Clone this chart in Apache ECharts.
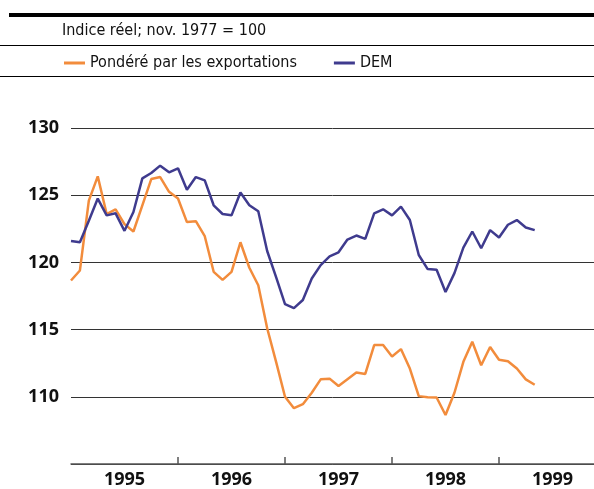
<!DOCTYPE html>
<html><head><meta charset="utf-8">
<script src="https://cdn.jsdelivr.net/npm/echarts@6/dist/echarts.min.js"></script>
<style>html,body{margin:0;padding:0;background:#fff}#c{width:594px;height:489px}</style>
</head><body><div id="c"></div>
<script>
const yearLabels = ['1995','1996','1997','1998','1999'];
const yTicks = [110,115,120,125,130];
// monthly values, Jan 1995 .. May 1999 (index = months since Jan 1995)
const exportWeighted = [118.65,119.4,124.6,126.4,123.6,123.95,122.85,122.3,124.25,126.2,126.35,125.25,
  124.75,123.0,123.07,121.95,119.3,118.7,119.3,121.5,119.6,118.3,115.1,112.6,
  110.0,109.15,109.45,110.3,111.3,111.35,110.8,111.3,111.8,111.7,113.85,113.85,
  113.0,113.55,112.1,110.05,109.97,109.95,108.65,110.3,112.6,114.1,112.35,113.7,
  112.75,112.65,112.1,111.3,110.9];
const dem = [121.6,121.5,123.1,124.75,123.5,123.65,122.35,123.75,126.25,126.65,127.2,126.7,
  127.0,125.4,126.35,126.1,124.25,123.6,123.5,125.2,124.25,123.8,120.85,118.9,
  116.9,116.6,117.2,118.8,119.8,120.45,120.75,121.7,122.0,121.75,123.65,123.95,
  123.5,124.15,123.15,120.55,119.5,119.45,117.8,119.2,121.1,122.3,121.05,122.4,
  121.85,122.8,123.15,122.6,122.4];
const seriesNames = ['Pondéré par les exportations','DEM'];
const colors = ['#F28C3C','#3F3B8E'];
const subtitle = 'Indice réel; nov. 1977 = 100';

const toPairs = arr => arr.map((v,i)=>[i,v]);
const font = 'Open Sans';
const chart = echarts.init(document.getElementById('c'));
chart.setOption({
  animation:false,
  grid:{left:71,top:128,width:523,height:339,containLabel:false},
  legend:{left:59,top:50,itemWidth:21,itemHeight:3,itemGap:37,icon:'rect',
    textStyle:{fontFamily:'DejaVu Sans Condensed',fontSize:16,color:'#111'},
    data:seriesNames.map((n,i)=>({name:n,itemStyle:{color:colors[i]}}))},
  graphic:[
    {type:'rect',shape:{x:9,y:13,width:600,height:4},style:{fill:'#000'}},
    {type:'line',shape:{x1:0,y1:45.5,x2:594,y2:45.5},style:{stroke:'#000',lineWidth:1}},
    {type:'line',shape:{x1:0,y1:76.5,x2:594,y2:76.5},style:{stroke:'#000',lineWidth:1}},
    {type:'text',left:62,top:23,style:{text:subtitle,font:'16px "DejaVu Sans Condensed"',fill:'#111'}}
  ],
  xAxis:{type:'value',min:0,max:58.65,
    axisLine:{show:true,lineStyle:{color:'#555',width:1.5}},
    axisTick:{show:true,inside:true,length:7,customValues:[12,24,36,48],lineStyle:{color:'#555',width:1.5}},
    axisLabel:{customValues:[6,18,30,42,54],formatter:v=>yearLabels[Math.floor(v/12)],
      fontFamily:font,fontWeight:'bold',fontSize:18,color:'#111',margin:7},
    splitLine:{show:false}},
  yAxis:{type:'value',min:105,max:130,interval:5,
    axisLine:{show:false},axisTick:{show:false},
    axisLabel:{formatter:v=>yTicks.includes(v)?String(v):'',fontFamily:font,fontWeight:'bold',fontSize:18,color:'#111',margin:12},
    splitLine:{show:true,lineStyle:{color:'#333',width:1}}},
  series:[
    {name:seriesNames[0],type:'line',data:toPairs(exportWeighted),symbol:'none',lineStyle:{color:colors[0],width:2.5},itemStyle:{color:colors[0]}},
    {name:seriesNames[1],type:'line',data:toPairs(dem),symbol:'none',lineStyle:{color:colors[1],width:2.5},itemStyle:{color:colors[1]}}
  ]
});
</script></body></html>
